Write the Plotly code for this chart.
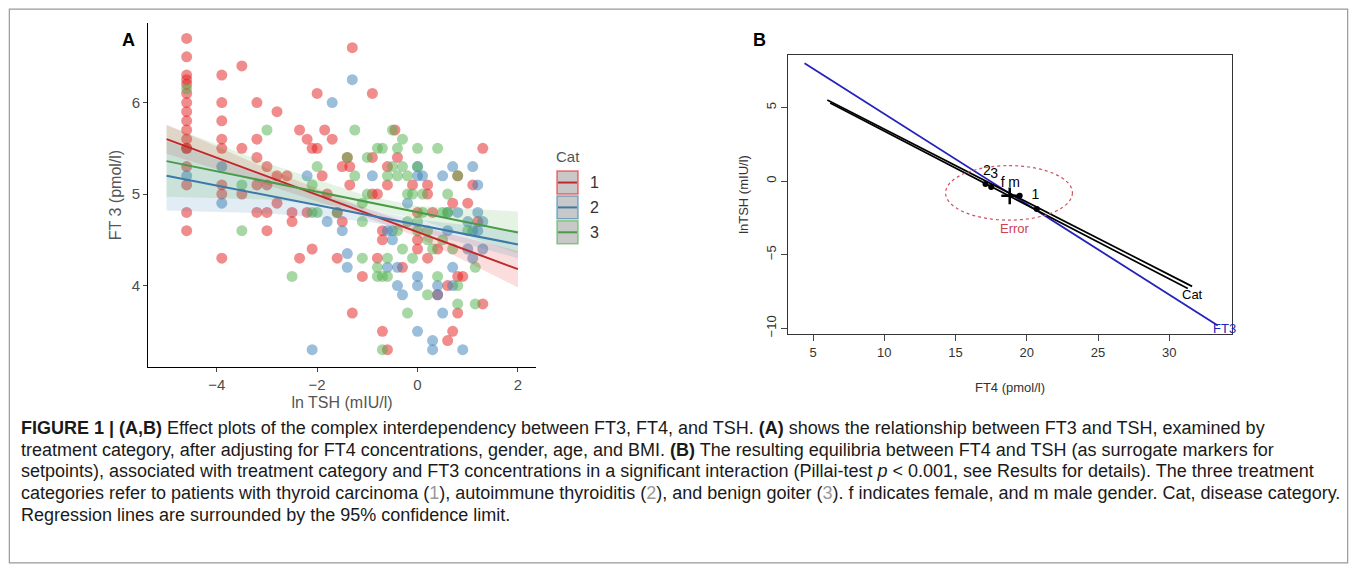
import plotly.graph_objects as go

W, H = 1357, 575
FW, FH = W - 16, H - 16   # page body margin of 8px
# ---------- Panel A data ----------
red_x = [-4.6]*17 + [-3.9]*8 + [-3.5]*3 + [-3.2]*5 + [-3.0]*4 + [-2.8]*3 + [-2.6] + [-2.5]*2 + [-2.35]*2 + [-2.2]*2 + [-2.1]*2 + [-2.0]*2 + [-1.9, -1.85, -1.8, -1.7] + [-1.6]*2 + [-1.5]*2 + [-1.4] + [-1.35]*2 + [-1.3]*2 + [-1.1] + [-0.9]*3 + [-0.8]*2 + [-0.7]*3 + [-0.6]*3 + [-0.45, -0.4, -0.3, -0.1] + [0.0]*3 + [0.2]*3 + [0.3] + [0.4]*2 + [0.6]*2 + [0.7]*2 + [0.8]*3 + [0.9, 1.0, 1.1, 1.2] + [1.3]*2
red_y = [6.7, 6.5, 6.3, 6.25, 6.2, 6.1, 6.0, 5.9, 5.8, 5.7, 5.6, 5.5, 5.5, 5.3, 5.1, 4.8, 4.6,
         6.3, 6.0, 5.8, 5.6, 5.5, 5.1, 5.0, 4.3,
         6.4, 5.5, 5.0,
         6.0, 5.6, 5.4, 5.1, 4.8,
         5.3, 5.1, 4.8, 4.6,
         5.9, 5.2, 4.9,
         5.2,
         4.8, 4.7,
         5.7, 4.3,
         5.6, 4.8,
         5.5, 4.4,
         6.1, 5.5,
         5.2, 5.7, 5.0, 5.6,
         4.8, 4.3,
         5.3, 4.7,
         5.4,
         5.3, 5.1,
         3.7, 6.6,
         4.1,
         6.1, 5.4, 5.0,
         5.0, 4.3,
         4.6, 4.5, 3.5,
         5.3, 5.1, 3.3,
         5.7, 5.4, 4.2, 5.1,
         4.8, 4.5, 4.4,
         5.1, 5.0, 4.3,
         4.8,
         4.4, 3.9,
         3.4, 4.0,
         4.9, 3.5,
         4.1, 3.7, 5.2,
         4.1, 4.9, 5.1, 4.7,
         5.5, 3.8]

blue_x = [-4.6] + [-3.9]*2 + [-2.2, -2.1, -1.7, -1.3] + [-1.4]*2 + [-1.5, -1.8, -0.9] + [-0.6]*2 + [-0.5]*2 + [-0.4]*2 + [-0.3, -0.2] + [0.0]*5 + [0.1] + [0.3]*2 + [0.4]*2 + [0.5]*2 + [0.6]*2 + [0.7]*3 + [0.8, 0.9] + [1.0]*2 + [1.1]*3 + [1.2]*3 + [1.3]*2
blue_y = [5.2, 5.3, 4.9, 5.2, 3.3, 6.0, 6.25, 4.35, 4.2, 4.6, 4.7, 5.2,
          4.2, 4.6, 4.6, 4.5, 4.2, 4.0, 3.9, 4.9,
          4.1, 4.0, 3.5, 5.3, 5.2, 5.2, 3.4, 3.3, 4.0, 3.9, 3.7, 5.2,
          4.8, 4.6, 5.3, 4.2, 4.0, 4.8, 3.3, 4.7, 4.4, 5.3, 4.3, 4.6,
          4.8, 4.6, 5.1, 4.7, 4.4]

green_x = [-4.6] + [-3.5]*2 + [-3.0, -2.5] + [-2.1]*2 + [-2.0]*2 + [-1.6, -1.4] + [-1.25]*2 + [-1.1]*3 + [-1.0]*2 + [-0.8]*3 + [-0.7]*3 + [-0.6]*3 + [-0.5]*2 + [-0.4]*3 + [-0.3]*3 + [-0.2]*4 + [-0.1]*2 + [0.0]*4 + [0.1]*2 + [0.2]*3 + [0.3] + [0.4]*2 + [0.5]*2 + [0.6]*2 + [0.7] + [0.8]*3 + [1.0] + [1.15]*2
green_y = [6.15, 5.1, 4.6, 5.7, 4.1, 5.1, 4.8, 5.3, 4.8, 4.8, 5.4, 5.7, 5.2,
           4.7, 4.3, 4.9, 5.4, 5.0, 5.5, 4.2, 4.1, 5.5, 4.1, 3.3, 5.2, 4.3, 4.1,
           5.7, 5.3, 5.5, 5.2, 4.6, 5.6, 5.3, 4.4, 5.2, 5.0, 4.7, 3.7, 5.0, 4.3,
           5.5, 5.3, 4.7, 4.6, 5.0, 4.8, 3.9, 4.5, 4.6, 4.4, 5.5, 4.1, 4.8, 4.5,
           5.0, 4.8, 4.4, 5.2, 4.0, 3.8, 4.6, 4.2, 3.8]

fit_x = [-5, 2]
red_fit = [5.6, 4.18]
blue_fit = [5.2, 4.45]
green_fit = [5.36, 4.58]
band_x = [-5, -3, -1, 0, 2]
red_lo = [5.44, 5.10, 4.74, 4.53, 3.98]
red_hi = [5.76, 5.28, 4.84, 4.65, 4.38]
blue_lo = [4.82, 4.79, 4.70, 4.60, 4.30]
blue_hi = [5.58, 5.18, 4.84, 4.72, 4.60]
green_lo = [4.97, 4.94, 4.84, 4.73, 4.35]
green_hi = [5.75, 5.34, 4.98, 4.87, 4.81]

# ---------- Panel B data ----------
cat_line1_x = [6.0, 31.6]
cat_line1_y = [5.5, -7.15]
cat_line2_x = [6.2, 31.3]
cat_line2_y = [5.3, -7.3]
ft3_x = [4.4, 33.4]
ft3_y = [8.0, -9.8]
dots_x = [17.1, 17.5, 19.5, 20.7]
dots_y = [-0.2, -0.4, -1.0, -1.9]
cross_x = [18.8]
cross_y = [-1.0]
ell_cx, ell_cy, ell_rx, ell_ry = 18.75, -0.8, 4.45, 1.85
lab_txt = ["2", "3", "f", "m", "1"]
lab_x = [17.2, 17.7, 18.3, 19.1, 20.6]
lab_y = [0.65, 0.45, -0.15, -0.15, -0.95]

fig = go.Figure()
cols = {"1": ("#E41A1C", "#C0282B"), "2": ("#377EB8", "#3C78A8"), "3": ("#4DAF4A", "#4A9A47")}
def rgba(h, a):
    h = h.lstrip('#'); return f"rgba({int(h[0:2],16)},{int(h[2:4],16)},{int(h[4:6],16)},{a})"

for k, xs, ys in [("1", red_x, red_y), ("2", blue_x, blue_y), ("3", green_x, green_y)]:
    fig.add_trace(go.Scatter(x=xs, y=ys, mode="markers", xaxis="x", yaxis="y", showlegend=False,
                             marker=dict(size=11, color=rgba(cols[k][0], 0.5), line=dict(width=0))))
for k, lo, hi in [("1", red_lo, red_hi), ("2", blue_lo, blue_hi), ("3", green_lo, green_hi)]:
    fig.add_trace(go.Scatter(x=band_x + band_x[::-1], y=hi + lo[::-1], fill="toself", mode="lines",
                             line=dict(width=0), fillcolor=rgba(cols[k][0], 0.15), xaxis="x", yaxis="y", showlegend=False))
for k, f in [("1", red_fit), ("2", blue_fit), ("3", green_fit)]:
    fig.add_trace(go.Scatter(x=fit_x, y=f, mode="lines", line=dict(color=cols[k][1], width=2),
                             xaxis="x", yaxis="y", showlegend=False))

# Panel B
fig.add_trace(go.Scatter(x=ft3_x, y=ft3_y, mode="lines", line=dict(color="#2222BB", width=1.8), xaxis="x2", yaxis="y2", showlegend=False))
for lx, ly in [(cat_line1_x, cat_line1_y), (cat_line2_x, cat_line2_y)]:
    fig.add_trace(go.Scatter(x=lx, y=ly, mode="lines", line=dict(color="black", width=1.7), xaxis="x2", yaxis="y2", showlegend=False))
fig.add_trace(go.Scatter(x=dots_x, y=dots_y, mode="markers", marker=dict(color="black", size=6), xaxis="x2", yaxis="y2", showlegend=False))
fig.add_trace(go.Scatter(x=cross_x, y=cross_y, mode="markers", marker=dict(color="black", size=12, symbol="cross-thin", line=dict(width=2.5, color="black")), xaxis="x2", yaxis="y2", showlegend=False))
fig.add_trace(go.Scatter(x=lab_x, y=lab_y, mode="text", text=lab_txt, textfont=dict(size=14, color="black", family="Liberation Sans"), xaxis="x2", yaxis="y2", showlegend=False))

def px(x): return (x - 8) / FW
def py(y): return 1 - (y - 8) / FH

tickfont = dict(size=15, color="#4d4d4d", family="Liberation Sans")
fig.update_layout(
    width=FW, height=FH, margin=dict(l=0, r=0, t=0, b=0), plot_bgcolor="white", paper_bgcolor="white",
    font=dict(family="Liberation Sans", color="#333"),
    xaxis=dict(domain=[px(148), px(536)], range=[-5.37, 2.36], tickvals=[-4, -2, 0, 2], ticktext=["−4", "−2", "0", "2"],
               showline=True, linecolor="black", linewidth=1, ticks="outside", ticklen=4, showgrid=False, zeroline=False,
               tickfont=tickfont, title=dict(text="ln TSH (mIU/l)", font=dict(size=16, color="#555"), standoff=4), anchor="y"),
    yaxis=dict(domain=[py(369), py(23)], range=[3.11, 6.87], tickvals=[4, 5, 6],
               showline=True, linecolor="black", linewidth=1, ticks="outside", ticklen=4, showgrid=False, zeroline=False,
               tickfont=tickfont, title=dict(text="FT 3 (pmol/l)", font=dict(size=16, color="#555"), standoff=6), anchor="x"),
    xaxis2=dict(domain=[px(788), px(1232)], range=[3.24, 34.4], tickvals=[5, 10, 15, 20, 25, 30],
                showline=True, mirror=True, linecolor="#333", linewidth=1, ticks="outside", ticklen=6, showgrid=False, zeroline=False,
                tickfont=dict(size=13, color="#333", family="Liberation Sans"),
                title=dict(text="FT4 (pmol/l)", font=dict(size=13, color="#333"), standoff=24), anchor="y2"),
    yaxis2=dict(domain=[py(336), py(55)], range=[-10.4, 8.58], tickvals=[-10, -5, 0, 5], ticktext=["−10", "−5", "0", "5"],
                tickangle=-90, showline=True, mirror=True, linecolor="#333", linewidth=1, ticks="outside", ticklen=6,
                showgrid=False, zeroline=False, tickfont=dict(size=13, color="#333", family="Liberation Sans"),
                title=dict(text="lnTSH (mIU/l)", font=dict(size=13, color="#333"), standoff=12), anchor="x2"),
)

ann = []
ann.append(dict(x=px(128), y=py(40), text="<b>A</b>", font=dict(size=18, color="black")))
ann.append(dict(x=px(759), y=py(40), text="<b>B</b>", font=dict(size=18, color="black")))
ann.append(dict(x=19.2, y=-3.2, xref="x2", yref="y2", text="Error", font=dict(size=13, color="#D04050"), showarrow=False))
ann.append(dict(x=31.6, y=-7.7, xref="x2", yref="y2", text="Cat", font=dict(size=13, color="black"), showarrow=False))
ann.append(dict(x=33.9, y=-10.0, xref="x2", yref="y2", text="FT3", font=dict(size=13, color="#2222BB"), showarrow=False))
# legend
ann.append(dict(x=px(568), y=py(157), text="Cat", font=dict(size=15, color="#555")))
shapes = [dict(type="circle", xref="x2", yref="y2", x0=ell_cx-ell_rx, x1=ell_cx+ell_rx, y0=ell_cy-ell_ry, y1=ell_cy+ell_ry,
               line=dict(color="#D05060", width=1.2, dash="dot"))]
for i, k in enumerate(["1", "2", "3"]):
    y0 = 172 + i * 25
    shapes.append(dict(type="rect", xref="paper", yref="paper", x0=px(557), x1=px(578), y0=py(y0), y1=py(y0 + 23),
                       fillcolor="#c8c8c8", line=dict(color=rgba(cols[k][0], 0.6), width=1.5)))
    shapes.append(dict(type="line", xref="paper", yref="paper", x0=px(558), x1=px(577), y0=py(y0 + 11.5), y1=py(y0 + 11.5),
                       line=dict(color=cols[k][1], width=2)))
    ann.append(dict(x=px(588), y=py(y0 + 11.5), text=k, font=dict(size=16, color="#333"), xanchor="left"))

# frame
shapes.append(dict(type="rect", xref="paper", yref="paper", x0=0.001, x1=0.999, y0=0.002, y1=0.998,
                   line=dict(color="#999", width=1.2)))

cap_lines = [
    "<b>FIGURE 1 | (A,B)</b> Effect plots of the complex interdependency between FT3, FT4, and TSH. <b>(A)</b> shows the relationship between FT3 and TSH, examined by",
    "treatment category, after adjusting for FT4 concentrations, gender, age, and BMI. <b>(B)</b> The resulting equilibria between FT4 and TSH (as surrogate markers for",
    "setpoints), associated with treatment category and FT3 concentrations in a significant interaction (Pillai-test <i>p</i> &lt; 0.001, see Results for details). The three treatment",
    "categories refer to patients with thyroid carcinoma (<span style='color:#999'>1</span>), autoimmune thyroiditis (<span style='color:#999'>2</span>), and benign goiter (<span style='color:#999'>3</span>). f indicates female, and m male gender. Cat, disease category.",
    "Regression lines are surrounded by the 95% confidence limit.",
]
cap_y = [430, 452, 474, 496, 518]
for t, yy in zip(cap_lines, cap_y):
    ann.append(dict(x=px(19), y=py(yy), text=t, xanchor="left", font=dict(size=18, color="#1a1a1a", family="Liberation Sans")))

for a in ann:
    a.setdefault("xref", "paper"); a.setdefault("yref", "paper"); a.setdefault("showarrow", False)
    a.setdefault("yanchor", "middle"); a.setdefault("xanchor", "center")
fig.update_layout(annotations=ann, shapes=shapes)
fig.write_html("out.html")
